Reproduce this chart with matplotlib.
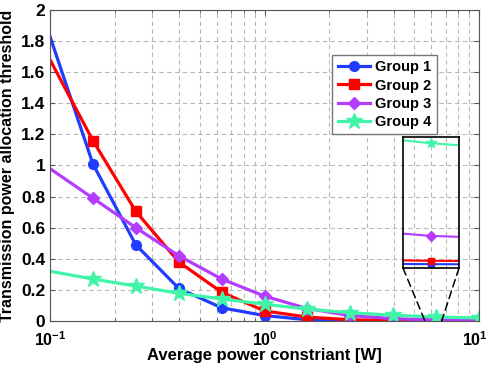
import numpy as np
import matplotlib
matplotlib.use("Agg")
import matplotlib.pyplot as plt
from matplotlib.patches import ConnectionPatch
from matplotlib.ticker import FuncFormatter
from matplotlib.transforms import ScaledTranslation

plt.rcParams['font.family'] = ['Liberation Sans', 'DejaVu Sans']
plt.rcParams['font.weight'] = 'bold'
plt.rcParams['mathtext.fontset'] = 'custom'
plt.rcParams['mathtext.bf'] = 'Liberation Sans:bold'
plt.rcParams['mathtext.rm'] = 'Liberation Sans:bold'
plt.rcParams['mathtext.default'] = 'bf'

# average power constraint [W]
power = [0.1, 0.1585, 0.2512, 0.3981, 0.631, 1.0, 1.585, 2.512, 3.981, 6.31, 10.0]

group1 = [1.83, 1.01, 0.49, 0.21, 0.085, 0.035, 0.008, 0.003, 0.0015, 0.0008, 0.0005]
group2 = [1.68, 1.16, 0.705, 0.38, 0.185, 0.065, 0.025, 0.008, 0.003, 0.0015, 0.001]
group3 = [0.98, 0.79, 0.60, 0.42, 0.27, 0.16, 0.08, 0.035, 0.015, 0.0067, 0.003]
group4 = [0.32, 0.27, 0.225, 0.178, 0.142, 0.108, 0.076, 0.053, 0.037, 0.026, 0.019]

labels = ["Group 1", "Group 2", "Group 3", "Group 4"]
yticks = [0, 0.2, 0.4, 0.6, 0.8, 1, 1.2, 1.4, 1.6, 1.8, 2]
ytick_labels = ["0", "0.2", "0.4", "0.6", "0.8", "1", "1.2", "1.4", "1.6", "1.8", "2"]

colors = ["#1f3cff", "#ff0000", "#b43cff", "#40f5a8"]
markers = ["o", "s", "D", "*"]
msizes = [7, 7, 6, 12]

# zoomed region shown in the inset
inset_xlim = (6.15, 6.48)
inset_ylim = (0, 0.0273)
zoom_link = (5.6, 6.7)

fig = plt.figure(figsize=(4.9, 3.66), dpi=100)
ax = fig.add_axes([50 / 490, 45 / 366, 429 / 490, 311 / 366])

series = [group1, group2, group3, group4]
for vals, c, m, ms, lab in zip(series, colors, markers, msizes, labels):
    ax.plot(power, vals, color=c, marker=m, markersize=ms, linewidth=2.3,
            markevery=slice(1, None), label=lab)

ax.set_xscale("log")
ax.set_xlim(0.1, 10)
ax.set_ylim(0, 2)
ax.set_yticks(yticks)
ax.set_yticklabels(ytick_labels, fontweight="bold")
ax.set_xticks([0.1, 1, 10])
ax.xaxis.set_major_formatter(FuncFormatter(
    lambda v, p: r"$\mathbf{10^{%d}}$" % round(np.log10(v))))
ax.tick_params(axis="both", which="both", direction="in",
               top=True, right=True, color="#555555")
ax.tick_params(axis="y", labelsize=12.5)
ax.tick_params(axis="x", labelsize=11.5, pad=7)
for s in ax.spines.values():
    s.set_color("#555555")
ax.grid(True, which="both", linestyle=(0, (4, 3)), color="#b8b8b8", linewidth=0.8)

# keep the last decade label inside the figure
last = ax.xaxis.get_major_ticks()[-1].label1
last.set_transform(last.get_transform() + ScaledTranslation(-3 / 72, 0, fig.dpi_scale_trans))

ax.set_xlabel("Average power constriant [W]", fontsize=12, fontweight="bold", labelpad=-1)
ax.set_ylabel("Transmission power allocation threshold", fontsize=11.5,
              fontweight="bold", labelpad=4)

leg = ax.legend(loc="upper right", bbox_to_anchor=(0.902, 0.855), fontsize=10.5,
                fancybox=False, edgecolor="#777777", framealpha=1, borderaxespad=0,
                handlelength=2.2, borderpad=0.35, labelspacing=0.3, handletextpad=0.4)
for t in leg.get_texts():
    t.set_fontweight("bold")

# inset
axin = fig.add_axes([403 / 490, 98 / 366, 56 / 490, 131 / 366])
axin.patch.set_alpha(0)
for vals, c, m, lab in zip(series, colors, markers, labels):
    axin.plot(power, vals, color=c, marker=m, markersize=5 if m != "*" else 7,
              linewidth=1.5)
axin.set_xscale("log")
axin.set_xlim(*inset_xlim)
axin.set_ylim(*inset_ylim)
axin.set_xticks([])
axin.set_yticks([])
axin.minorticks_off()
for s in axin.spines.values():
    s.set_color("black")
    s.set_linewidth(1.2)

for xa, xb in [(0, zoom_link[0]), (1, zoom_link[1])]:
    con = ConnectionPatch(xyA=(xa, 0), coordsA=axin.transAxes,
                          xyB=(xb, 0), coordsB=ax.transData,
                          linestyle=(0, (5, 3)), color="black", linewidth=1.1)
    fig.add_artist(con)

fig.savefig("out.png", dpi=100)
